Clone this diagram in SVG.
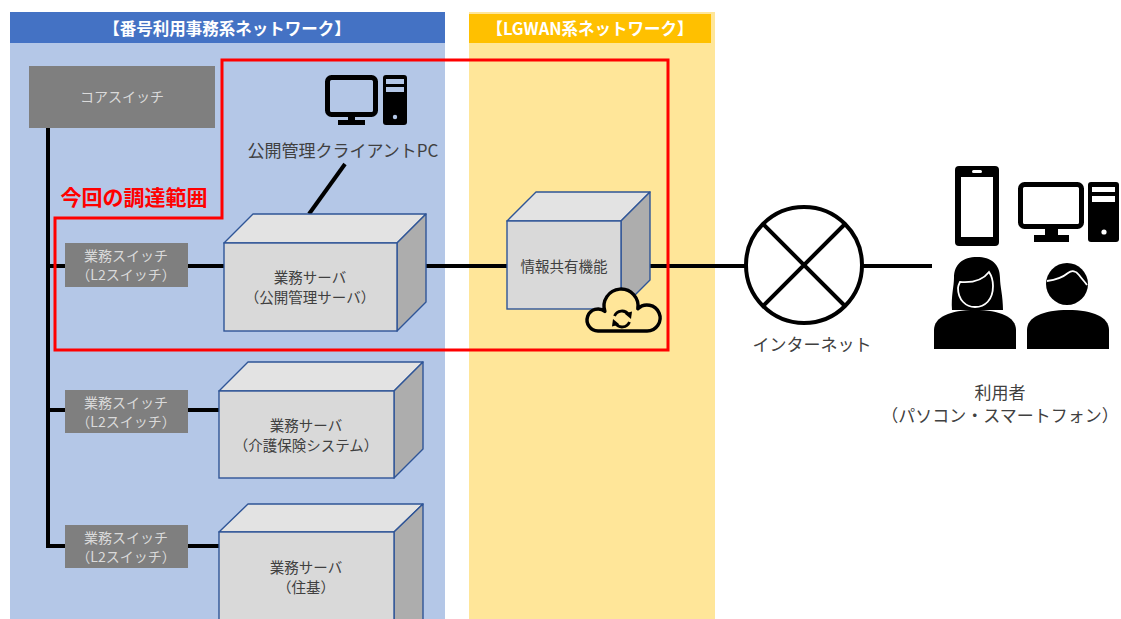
<svg xmlns="http://www.w3.org/2000/svg" width="1121" height="619" viewBox="0 0 1121 619">
  <defs>
    <style>
      text { font-family: "Noto Sans CJK JP", "Noto Sans", sans-serif; text-anchor: middle; dominant-baseline: central; }
      .hdr { font-size: 16.5px; font-weight: bold; fill: #FFFFFF; }
      .sw rect { fill: #7F7F7F; }
      .sw text { font-size: 14px; fill: #DADADA; }
      .box .front { fill: #D9D9D9; stroke: #2F5597; stroke-width: 1.4; }
      .box .top { fill: #E3E3E3; stroke: #2F5597; stroke-width: 1.4; stroke-linejoin: round; }
      .box .side { fill: #ADADAD; stroke: #2F5597; stroke-width: 1.4; stroke-linejoin: round; }
      .box text { font-size: 14.5px; fill: #404040; }
      .lbl { font-size: 17px; fill: #404040; }
      .wire { stroke: #000000; stroke-width: 4; fill: none; }
      .icon { fill: #000000; }
    </style>
  </defs>

  <!-- network zones -->
  <g id="zone-mynumber">
    <rect x="10" y="12" width="435" height="607" fill="#B4C7E7"/>
    <rect x="10" y="12" width="435" height="31" fill="#4472C4"/>
    <text class="hdr" x="227" y="28">【番号利用事務系ネットワーク】</text>
  </g>
  <g id="zone-lgwan">
    <rect x="469" y="12" width="246" height="607" fill="#FFE699"/>
    <rect x="469" y="14" width="242" height="29" fill="#FFC000"/>
    <text class="hdr" x="590" y="28">【LGWAN系ネットワーク】</text>
  </g>

  <!-- connectors -->
  <g id="connectors">
    <path class="wire" d="M48,128 V546 H220"/>
    <path class="wire" d="M46,266 H225"/>
    <path class="wire" d="M46,410 H220"/>
    <path class="wire" d="M426,266 H508"/>
    <path class="wire" d="M650,266 H746"/>
    <path class="wire" d="M862,266 H932"/>
    <path class="wire" d="M345,164 L309,214"/>
  </g>

  <!-- core switch -->
  <g id="core-switch" class="sw">
    <rect x="29" y="66" width="186" height="62"/>
    <text x="122" y="96">コアスイッチ</text>
  </g>

  <!-- L2 switches -->
  <g id="switch-1" class="sw">
    <rect x="65" y="243" width="123" height="44"/>
    <text x="126" y="255">業務スイッチ</text>
    <text x="126" y="274">（L2スイッチ）</text>
  </g>
  <g id="switch-2" class="sw">
    <rect x="65" y="390" width="123" height="43"/>
    <text x="126" y="402">業務スイッチ</text>
    <text x="126" y="421">（L2スイッチ）</text>
  </g>
  <g id="switch-3" class="sw">
    <rect x="65" y="525" width="123" height="43"/>
    <text x="126" y="537">業務スイッチ</text>
    <text x="126" y="556">（L2スイッチ）</text>
  </g>

  <!-- servers -->
  <g id="server-public" class="box">
    <path class="top" d="M224,243 L253,214 H426 L397,243 Z"/>
    <path class="side" d="M397,243 L426,214 V302 L397,331 Z"/>
    <rect class="front" x="224" y="243" width="173" height="88"/>
    <text x="310" y="276">業務サーバ</text>
    <text x="310" y="296">（公開管理サーバ）</text>
  </g>
  <g id="server-care" class="box">
    <path class="top" d="M219,391 L248,362 H423 L394,391 Z"/>
    <path class="side" d="M394,391 L423,362 V449 L394,478 Z"/>
    <rect class="front" x="219" y="391" width="175" height="87"/>
    <text x="306" y="424">業務サーバ</text>
    <text x="306" y="444">（介護保険システム）</text>
  </g>
  <g id="server-resident" class="box">
    <path class="top" d="M219,532 L248,504 H423 L394,532 Z"/>
    <path class="side" d="M394,532 L423,504 V640 L394,640 Z"/>
    <rect class="front" x="219" y="532" width="175" height="110"/>
    <text x="306" y="566">業務サーバ</text>
    <text x="306" y="586">（住基）</text>
  </g>

  <!-- information sharing function -->
  <g id="info-share" class="box">
    <path class="top" d="M507,221 L536,192 H650 L621,221 Z"/>
    <path class="side" d="M621,221 L650,192 V280 L621,309 Z"/>
    <rect class="front" x="507" y="221" width="114" height="88"/>
    <text x="564" y="265">情報共有機能</text>
    <!-- cloud sync badge -->
    <path d="M598,331 A11,11 0 1 1 604.9,311.4 A17,17 0 1 1 637.8,308.9 A13,13 0 1 1 647,331 Z" fill="#FFE699" stroke="#000000" stroke-width="3.4" stroke-linejoin="round"/>
    <path d="M614.5,316 A8,8 0 0 1 628.5,314.5" fill="none" stroke="#000000" stroke-width="2.8"/>
    <path d="M624.5,313.5 L632,311.5 L631,319 Z" fill="#000000"/>
    <path d="M629.5,322 A8,8 0 0 1 615.5,323.5" fill="none" stroke="#000000" stroke-width="2.8"/>
    <path d="M619.5,324.5 L612,326.5 L613,319 Z" fill="#000000"/>
  </g>

  <!-- client PC -->
  <g id="client-pc">
    <rect x="327.5" y="77.5" width="48" height="37" rx="4" fill="none" stroke="#000000" stroke-width="5"/>
    <rect x="348" y="114" width="7" height="8" class="icon"/>
    <rect x="338" y="120" width="27" height="5" class="icon"/>
    <rect x="383" y="75" width="24" height="50" rx="3" class="icon"/>
    <rect x="386" y="79" width="18" height="5" fill="#B4C7E7"/>
    <rect x="386" y="87" width="18" height="5" fill="#B4C7E7"/>
    <circle cx="395" cy="117" r="2.2" fill="#B4C7E7"/>
    <text class="lbl" x="343" y="149">公開管理クライアントPC</text>
  </g>

  <!-- internet -->
  <g id="internet">
    <circle cx="804" cy="265" r="58" fill="#FFFFFF" stroke="#000000" stroke-width="4"/>
    <path d="M763,224 L845,306 M845,224 L763,306" stroke="#000000" stroke-width="4"/>
    <text class="lbl" x="812" y="343">インターネット</text>
  </g>

  <!-- users -->
  <g id="users">
    <!-- smartphone -->
    <rect x="955" y="166" width="44" height="80" rx="4" class="icon"/>
    <rect x="961" y="177" width="32" height="60" fill="#FFFFFF"/>
    <rect x="972" y="170" width="10" height="3" rx="1.5" fill="#FFFFFF"/>
    <!-- desktop -->
    <rect x="1020.5" y="184.5" width="61" height="42" rx="4" fill="none" stroke="#000000" stroke-width="5"/>
    <rect x="1045" y="228" width="13" height="8" class="icon"/>
    <rect x="1034" y="235" width="35" height="7" class="icon"/>
    <rect x="1088" y="182" width="31" height="60" rx="3" class="icon"/>
    <rect x="1092" y="187" width="23" height="5" fill="#FFFFFF"/>
    <rect x="1092" y="196" width="23" height="6" fill="#FFFFFF"/>
    <circle cx="1104" cy="232" r="2.6" fill="#FFFFFF"/>
    <!-- woman -->
    <path d="M952,310 C951,296 954,286 954,278 C954,264 963,257 977,257 C991,257 1000,264 1000,278 C1000,286 1003,296 1003,310 Z" class="icon"/>
    <path d="M958,288 C958,300 966,307 975,307 C985,307 993,300 993,286 C993,280 991,275 989,272 C983,280 972,283 960,282 C959,284 958,286 958,288 Z" fill="#000000" stroke="#FFFFFF" stroke-width="1.8"/>
    <path d="M934,349 V330 C934,317 950,310 975,310 C1000,310 1016,317 1016,330 V349 Z" class="icon"/>
    <!-- man -->
    <circle cx="1067" cy="284" r="21" class="icon"/>
    <path d="M1047,281 C1055,280 1062,278 1068,273 C1072,270 1076,271 1079,275 C1082,279 1085,282 1087,285" fill="none" stroke="#FFFFFF" stroke-width="1.8"/>
    <path d="M1027,349 V330 C1027,317 1043,310 1068,310 C1093,310 1109,317 1109,330 V349 Z" class="icon"/>
    <text class="lbl" x="1000" y="391">利用者</text>
    <text class="lbl" x="1000" y="414">（パソコン・スマートフォン）</text>
  </g>

  <!-- procurement scope -->
  <g id="scope">
    <path d="M222,60 H668 V350 H55 V218 H222 Z" fill="none" stroke="#FF0000" stroke-width="3"/>
    <text x="134" y="196" font-size="21" font-weight="bold" fill="#FF0000">今回の調達範囲</text>
  </g>
</svg>
